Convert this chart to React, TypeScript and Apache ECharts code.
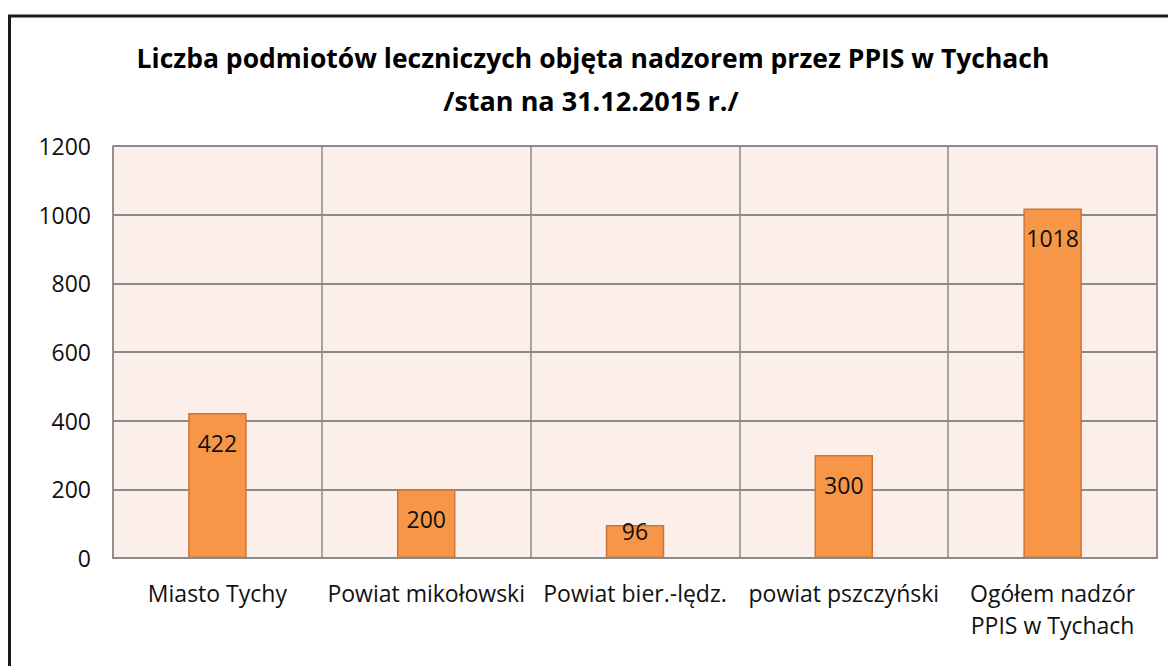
import React, { useEffect, useRef } from "react";
import * as echarts from "echarts";

const categories = [
  "Miasto Tychy",
  "Powiat mikołowski",
  "Powiat bier.-lędz.",
  "powiat pszczyński",
  "Ogółem nadzór\nPPIS w Tychach",
];
const values = [422, 200, 96, 300, 1018];
const yTicks = { min: 0, max: 1200, interval: 200 };
const titleLines = [
  "Liczba podmiotów leczniczych objęta nadzorem przez PPIS w Tychach",
  "/stan na 31.12.2015 r./",
];

const FONT = "'Open Sans', 'DejaVu Sans', sans-serif";

export default function App() {
  const ref = useRef<HTMLDivElement>(null);
  useEffect(() => {
    if (!ref.current) return;
    const chart = echarts.init(ref.current, undefined, { renderer: "svg" });
    chart.setOption({
      animation: false,
      backgroundColor: "#ffffff",
      graphic: [
        {
          type: "rect",
          shape: { x: 9.5, y: 16, width: 1300, height: 800 },
          style: { fill: "none", stroke: "#1a1a1a", lineWidth: 3 },
          silent: true,
        },
        {
          type: "text",
          x: 593,
          y: 58,
          style: {
            text: titleLines[0],
            font: `bold 26.5px ${FONT}`,
            fill: "#000",
            textAlign: "center",
            textVerticalAlign: "middle",
          },
        },
        {
          type: "text",
          x: 591,
          y: 100,
          style: {
            text: titleLines[1],
            font: `bold 27px ${FONT}`,
            fill: "#000",
            textAlign: "center",
            textVerticalAlign: "middle",
          },
        },
      ],
      grid: {
        left: 113,
        right: 11,
        top: 146,
        bottom: 108,
        show: true,
        backgroundColor: "#fcefea",
        borderColor: "#8a8a8a",
        borderWidth: 1.5,
      },
      xAxis: {
        type: "category",
        data: categories,
        boundaryGap: true,
        axisLine: { show: true, lineStyle: { color: "#8a8a8a", width: 2 } },
        axisTick: { show: false },
        splitLine: { show: true, lineStyle: { color: "#8a8a8a", width: 1.5 } },
        axisLabel: {
          interval: 0,
          color: "#111",
          fontFamily: FONT,
          fontSize: 23,
          margin: 19,
          lineHeight: 32,
        },
      },
      yAxis: {
        type: "value",
        min: yTicks.min,
        max: yTicks.max,
        interval: yTicks.interval,
        axisLine: { show: false },
        axisTick: { show: false },
        splitLine: { show: true, lineStyle: { color: "#8a8a8a", width: 2 } },
        axisLabel: {
          color: "#111",
          fontFamily: FONT,
          fontSize: 23,
          margin: 22,
          formatter: (v: number) => String(v),
        },
      },
      series: [
        {
          type: "bar",
          data: values.map((v) =>
            v < 150
              ? { value: v, label: { distance: -6 } }
              : v
          ),
          barWidth: "28%",
          itemStyle: {
            color: "#f79646",
            borderColor: "#c8763a",
            borderWidth: 1.5,
          },
          label: {
            show: true,
            position: "insideTop",
            distance: 18,
            color: "#111",
            fontFamily: FONT,
            fontSize: 23,
          },
        },
      ],
    });
    return () => chart.dispose();
  }, []);
  return (
    <div
      ref={ref}
      style={{ position: "absolute", left: 0, top: 0, width: 1168, height: 666 }}
    />
  );
}
